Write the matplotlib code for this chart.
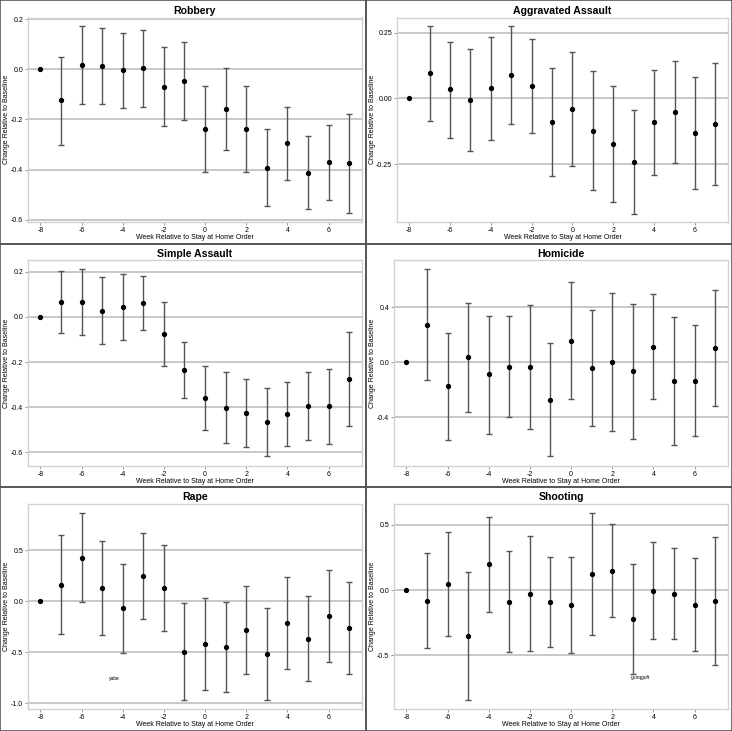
import matplotlib
matplotlib.use('Agg')
from matplotlib import pyplot as plt
from matplotlib.patches import Rectangle

plt.rcParams['font.family'] = ['Liberation Sans', 'DejaVu Sans']
plt.rcParams['axes.unicode_minus'] = False

weeks = [-8, -7, -6, -5, -4, -3, -2, -1, 0, 1, 2, 3, 4, 5, 6, 7]
xticks = [-8, -6, -4, -2, 0, 2, 4, 6]

# Robbery
robbery_est = [0, -0.123, 0.018, 0.013, -0.004, 0.005, -0.069, -0.048, -0.238, -0.160, -0.236, -0.392, -0.294, -0.413, -0.371, -0.374]
robbery_hi = [0, 0.050, 0.172, 0.166, 0.143, 0.158, 0.090, 0.107, -0.067, 0.003, -0.067, -0.236, -0.149, -0.265, -0.222, -0.177]
robbery_lo = [0, -0.300, -0.137, -0.140, -0.153, -0.149, -0.226, -0.202, -0.409, -0.321, -0.408, -0.545, -0.441, -0.558, -0.520, -0.573]
robbery_yticks = [-0.6, -0.4, -0.2, 0.0, 0.2]
robbery_ticklabels = ['-0.6', '-0.4', '-0.2', '0.0', '0.2']

# Aggravated Assault
agg_est = [0, 0.095, 0.035, -0.005, 0.038, 0.090, 0.048, -0.091, -0.040, -0.122, -0.172, -0.241, -0.091, -0.052, -0.130, -0.098]
agg_hi = [0, 0.274, 0.216, 0.187, 0.232, 0.274, 0.226, 0.114, 0.178, 0.104, 0.049, -0.044, 0.109, 0.141, 0.083, 0.134]
agg_lo = [0, -0.086, -0.149, -0.198, -0.159, -0.097, -0.131, -0.295, -0.258, -0.350, -0.393, -0.438, -0.290, -0.245, -0.343, -0.331]
agg_yticks = [-0.25, 0.0, 0.25]
agg_ticklabels = ['-0.25', '0.00', '0.25']

# Simple Assault
simple_est = [0, 0.065, 0.065, 0.026, 0.044, 0.063, -0.075, -0.236, -0.358, -0.402, -0.424, -0.467, -0.430, -0.395, -0.396, -0.273]
simple_hi = [0, 0.201, 0.210, 0.178, 0.188, 0.182, 0.066, -0.113, -0.219, -0.245, -0.274, -0.314, -0.288, -0.244, -0.229, -0.066]
simple_lo = [0, -0.070, -0.081, -0.122, -0.101, -0.056, -0.216, -0.360, -0.499, -0.559, -0.574, -0.618, -0.571, -0.545, -0.565, -0.481]
simple_yticks = [-0.6, -0.4, -0.2, 0.0, 0.2]
simple_ticklabels = ['-0.6', '-0.4', '-0.2', '0.0', '0.2']

# Homicide
homicide_est = [0, 0.269, -0.173, 0.036, -0.086, -0.034, -0.034, -0.271, 0.156, -0.041, 0.005, -0.065, 0.113, -0.137, -0.135, 0.106]
homicide_hi = [0, 0.673, 0.211, 0.428, 0.339, 0.334, 0.413, 0.139, 0.579, 0.377, 0.500, 0.423, 0.492, 0.329, 0.267, 0.526]
homicide_lo = [0, -0.132, -0.562, -0.358, -0.517, -0.399, -0.483, -0.682, -0.264, -0.459, -0.495, -0.557, -0.264, -0.603, -0.538, -0.315]
homicide_yticks = [-0.4, 0.0, 0.4]
homicide_ticklabels = ['-0.4', '0.0', '0.4']

# Rape
rape_est = [0, 0.159, 0.425, 0.130, -0.071, 0.250, 0.130, -0.494, -0.416, -0.451, -0.286, -0.516, -0.211, -0.367, -0.146, -0.260]
rape_hi = [0, 0.646, 0.864, 0.591, 0.364, 0.669, 0.549, -0.019, 0.032, -0.006, 0.146, -0.065, 0.240, 0.052, 0.305, 0.185]
rape_lo = [0, -0.325, -0.006, -0.328, -0.506, -0.175, -0.289, -0.971, -0.870, -0.893, -0.718, -0.971, -0.669, -0.786, -0.597, -0.711]
rape_yticks = [-1.0, -0.5, 0.0, 0.5]
rape_ticklabels = ['-1.0', '-0.5', '0.0', '0.5']

# Shooting
shooting_est = [0, -0.081, 0.046, -0.354, 0.198, -0.089, -0.028, -0.094, -0.115, 0.122, 0.150, -0.224, -0.005, -0.028, -0.112, -0.087]
shooting_hi = [0, 0.282, 0.450, 0.137, 0.565, 0.300, 0.412, 0.254, 0.254, 0.590, 0.506, 0.198, 0.366, 0.323, 0.244, 0.405]
shooting_lo = [0, -0.448, -0.356, -0.845, -0.170, -0.473, -0.468, -0.440, -0.483, -0.346, -0.209, -0.646, -0.379, -0.379, -0.471, -0.573]
shooting_yticks = [-0.5, 0.0, 0.5]
shooting_ticklabels = ['-0.5', '0.0', '0.5']

W, H = 732, 731
PW, PH = 366, 243.7


def panel(fig, row, col, title, est, lo, hi, yticks, yticklabels, ylim, left=28, top=16.5):
    x0 = col * PW
    y0 = row * PH
    aw = 362 - left
    ah = 222 - top
    ax = fig.add_axes([(x0 + left) / W, 1 - (y0 + 222) / H, aw / W, ah / H])
    for v in yticks:
        ax.axhline(v, color='#c4c4c4', lw=1.3, zorder=0)
    err_lo = [e - l for e, l in zip(est, lo)]
    err_hi = [h - e for e, h in zip(est, hi)]
    ax.errorbar(weeks[1:], est[1:], yerr=[err_lo[1:], err_hi[1:]], fmt='none',
                ecolor='#555555', elinewidth=1, capsize=2, capthick=1, zorder=2)
    ax.plot(weeks, est, 'o', color='black', markersize=2.8, zorder=3)
    ax.set_xlim(-8.6, 7.62)
    ax.set_ylim(ylim)
    ax.set_xticks(xticks)
    ax.set_xticklabels([str(t) for t in xticks])
    ax.set_yticks(yticks)
    ax.set_yticklabels(yticklabels)
    ax.tick_params(labelsize=5, length=2, width=0.6, color='#888888', pad=1.5)
    for s in ax.spines.values():
        s.set_color('#d2d2d2')
        s.set_linewidth(1)
    ax.set_title(title, fontsize=7.6, fontweight='bold', pad=2.5)
    ax.set_xlabel('Week Relative to Stay at Home Order', fontsize=5)
    ax.xaxis.set_label_coords(0.5, -(234 - 222) / ah)
    ax.set_ylabel('Change Relative to Baseline', fontsize=5)
    ax.yaxis.set_label_coords(-(left - 10) / aw, 0.5)
    fig.add_artist(Rectangle((x0 / W, 1 - (y0 + PH) / H), PW / W, PH / H,
                             transform=fig.transFigure, fill=False,
                             edgecolor='#555555', lw=1.2))
    return ax


def start():
    fig = plt.figure(figsize=(W / 100, H / 100), dpi=100)
    panel(fig, 0, 0, 'Robbery', robbery_est, robbery_lo, robbery_hi,
          robbery_yticks, robbery_ticklabels, (-0.608, 0.206), top=17.5)
    panel(fig, 0, 1, 'Aggravated Assault', agg_est, agg_lo, agg_hi,
          agg_yticks, agg_ticklabels, (-0.47, 0.308), left=31, top=17.5)
    panel(fig, 1, 0, 'Simple Assault', simple_est, simple_lo, simple_hi,
          simple_yticks, simple_ticklabels, (-0.659, 0.251))
    panel(fig, 1, 1, 'Homicide', homicide_est, homicide_lo, homicide_hi,
          homicide_yticks, homicide_ticklabels, (-0.75, 0.74))
    ax = panel(fig, 2, 0, 'Rape', rape_est, rape_lo, rape_hi,
               rape_yticks, rape_ticklabels, (-1.062, 0.955))
    ax.text(-4.4, -0.756, 'yabe', fontsize=3.5, ha='center', va='center')
    ax = panel(fig, 2, 1, 'Shooting', shooting_est, shooting_lo, shooting_hi,
               shooting_yticks, shooting_ticklabels, (-0.916, 0.662))
    ax.text(2.9, -0.674, 'guoqguft', fontsize=3.5, ha='left', va='center')
    fig.savefig('out.png', dpi=100)


if __name__ == '__main__':
    start()
